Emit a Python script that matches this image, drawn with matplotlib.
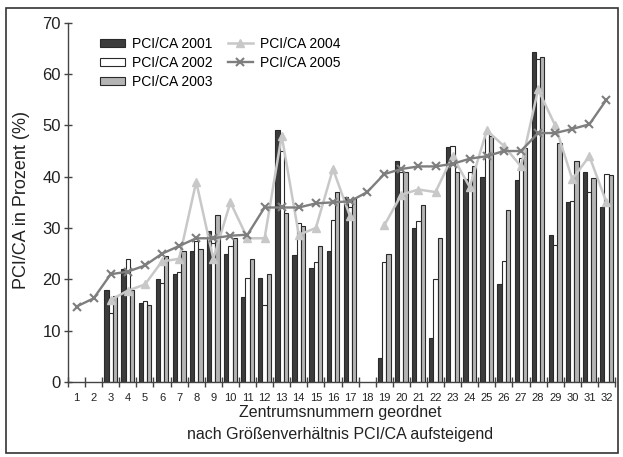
import numpy as np
import matplotlib
matplotlib.use("Agg")
import matplotlib.pyplot as plt
from matplotlib.patches import Rectangle

plt.rcParams['font.family'] = ['Liberation Sans', 'DejaVu Sans']

centers = list(range(1, 33))
nan = np.nan
pci_2001 = [nan, nan, 18, 22, 15.3, 20, 21, 25.5, 29.5, 25, 16.5, 20.3, 49, 24.7, 22.3, 25.5,
            36, nan, 4.7, 43, 30, 8.5, 45.7, 39.5, 40, 19, 39.3, 64.3, 28.7, 35, 41, 34]
pci_2002 = [nan, nan, 13.5, 24, 15.7, 19.3, 21.5, 27.5, 27, 26.5, 20.3, 15, 45, 31, 23.3, 31.5,
            34, nan, 23.3, 41, 31.3, 20, 46, 41, 48.5, 23.5, 43.7, 63, 26.7, 35.2, 37, 40.5]
pci_2003 = [nan, nan, 16.8, 18, 15, 24.5, 25.5, 26, 32.5, 28, 24, 21, 33, 30.3, 26.5, 37,
            35.8, nan, 25, 41, 34.5, 28, 41, 42, 48, 33.5, 45.5, 63.3, 46.5, 43, 39.7, 40.3]
pci_2004 = [nan, nan, 16, 17.8, 19, 23.5, 24, 39, 24, 35, 28, 28, 48, 28.7, 30, 41.5,
            32.3, nan, 30.5, 36.5, 37.5, 37, 44, 38, 49, 46, 42, 57, 50, 39.5, 44, 35]
pci_2005 = [14.7, 16.3, 21, 21.5, 22.7, 25, 26.5, 28, 28, 28.5, 28.7, 34, 34, 34, 34.8, 35,
            35.2, 37, 40.5, 41.5, 42, 42, 42.5, 43.5, 44, 45, 45, 48.5, 48.5, 49.3, 50.2, 55]
tick_labels = [str(c) for c in centers]
yticks = [0, 10, 20, 30, 40, 50, 60, 70]

fig = plt.figure(figsize=(6.23, 4.57), dpi=100)
ax = fig.add_axes([68/623, 1-382/457, (615-68)/623, (382-22.7)/457])

x = np.array(centers, dtype=float)
w = 0.25
edge = '#2a2a2a'
b1 = ax.bar(x - w, pci_2001, w, color='#3c3c3c', edgecolor=edge, linewidth=0.8, label='PCI/CA 2001', zorder=2)
b2 = ax.bar(x, pci_2002, w, color='#ffffff', edgecolor=edge, linewidth=0.8, label='PCI/CA 2002', zorder=2)
b3 = ax.bar(x + w, pci_2003, w, color='#b4b4b4', edgecolor=edge, linewidth=0.8, label='PCI/CA 2003', zorder=2)
l4, = ax.plot(x, pci_2004, color='#c8c8c8', lw=1.8, marker='^', ms=6, mfc='#c8c8c8', mec='#c8c8c8',
              label='PCI/CA 2004', zorder=3)
l5, = ax.plot(x, pci_2005, color='#7e7e7e', lw=1.7, marker='x', ms=5.5, mew=1.5,
              label='PCI/CA 2005', zorder=4)

ax.set_xlim(0.5, 32.5)
ax.set_ylim(0, 70)
for s in ['top', 'right']:
    ax.spines[s].set_visible(False)
for s in ['left', 'bottom']:
    ax.spines[s].set_color('#444444')
    ax.spines[s].set_linewidth(1.0)

ax.set_yticks(yticks)
ax.set_yticklabels([str(v) for v in yticks], fontsize=12, color='#222222')
ax.tick_params(axis='y', direction='inout', length=6, width=1, color='#444444', pad=2)

ax.set_xticks(x)
ax.set_xticklabels(tick_labels, fontsize=8, color='#222222')
ax.set_xticks(np.arange(0.5, 33, 1), minor=True)
ax.tick_params(axis='x', which='major', length=0, pad=8)
ax.tick_params(axis='x', which='minor', direction='inout', length=7, width=1, color='#444444')

fig.text(22/623, 1-200/457, 'PCI/CA in Prozent (%)', rotation=90, ha='center', va='center',
         fontsize=13, color='#222222')
fig.text(340/623, 1-412/457, 'Zentrumsnummern geordnet', ha='center', va='center',
         fontsize=11.5, color='#222222')
fig.text(340/623, 1-435/457, 'nach Größenverhältnis PCI/CA aufsteigend', ha='center', va='center',
         fontsize=11.5, color='#222222')

fig.legend(handles=[b1, b2, b3, l4, l5], loc='upper left', bbox_to_anchor=(93/623, 1-30/457),
           ncol=2, frameon=False,
           fontsize=10, borderpad=0, handlelength=1.8, handleheight=0.55,
           handletextpad=0.5, labelspacing=0.35, columnspacing=1.1)

fig.patches.append(Rectangle((6/623, 4/457), 612/623, 445/457, transform=fig.transFigure,
                             fill=False, edgecolor='#333333', linewidth=1.2))

fig.savefig('out.png', dpi=100)
